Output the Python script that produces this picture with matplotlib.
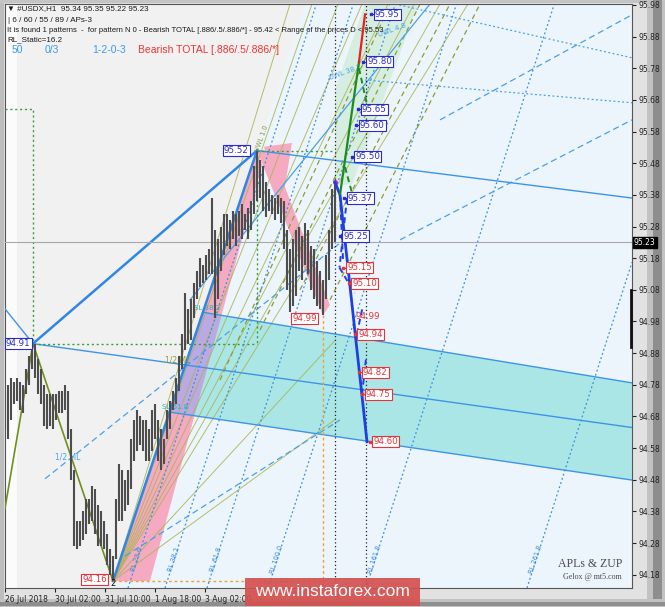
import matplotlib
matplotlib.use('Agg')
import matplotlib.pyplot as plt
from matplotlib.patches import Polygon, Rectangle

plt.rcParams['font.family'] = ['DejaVu Sans']

# candle columns (one column = 3 px on the original chart), highs / lows
highs = [94.76, 94.78, 94.80, 94.79, 94.80, 94.79, 94.78, 94.83, 94.87, 94.92,
         94.91, 94.86, 94.83, 94.78, 94.75, 94.75, 94.75, 94.75, 94.76, 94.76,
         94.78, 94.76, 94.64, 94.51, 94.35, 94.35, 94.38, 94.42, 94.42, 94.46,
         94.45, 94.40, 94.38, 94.35, 94.31, 94.26, 94.24, 94.42, 94.53, 94.51,
         94.48, 94.51, 94.61, 94.67, 94.70, 94.68, 94.67, 94.67, 94.64, 94.70,
         94.72, 94.67, 94.64, 94.61, 94.70, 94.73, 94.76, 94.80, 94.87, 94.94,
         95.07, 95.02, 95.05, 95.10, 95.14, 95.18, 95.16, 95.19, 95.21, 95.37,
         95.27, 95.24, 95.28, 95.32, 95.32, 95.30, 95.33, 95.32, 95.33, 95.35,
         95.32, 95.34, 95.36, 95.47, 95.52, 95.49, 95.47, 95.42, 95.40, 95.38,
         95.37, 95.38, 95.37, 95.36, 95.27, 95.21, 95.24, 95.27, 95.28, 95.25,
         95.29, 95.27, 95.22, 95.21, 95.17, 95.14, 95.11, 95.19, 95.27, 95.40,
         95.42]
lows = [94.64, 94.61, 94.67, 94.72, 94.73, 94.70, 94.69, 94.75, 94.78, 94.83,
        94.80, 94.75, 94.72, 94.65, 94.64, 94.65, 94.64, 94.67, 94.69, 94.69,
        94.70, 94.61, 94.48, 94.27, 94.26, 94.27, 94.29, 94.31, 94.34, 94.35,
        94.31, 94.27, 94.27, 94.26, 94.21, 94.18, 94.16, 94.23, 94.35, 94.35,
        94.38, 94.40, 94.45, 94.54, 94.57, 94.59, 94.57, 94.54, 94.54, 94.57,
        94.61, 94.54, 94.51, 94.53, 94.61, 94.64, 94.70, 94.72, 94.76, 94.83,
        94.89, 94.91, 94.92, 94.99, 95.05, 95.09, 95.10, 95.11, 95.13, 95.13,
        94.99, 95.05, 95.14, 95.19, 95.22, 95.21, 95.24, 95.22, 95.25, 95.24,
        95.27, 95.24, 95.27, 95.32, 95.36, 95.37, 95.33, 95.31, 95.33, 95.32,
        95.30, 95.32, 95.29, 95.21, 95.08, 95.01, 95.03, 95.06, 95.14, 95.11,
        95.16, 95.13, 95.08, 95.05, 95.03, 95.02, 95.00, 95.05, 95.11, 95.21,
        95.23]
last_price = 95.23

price_ticks = [95.98, 95.88, 95.78, 95.68, 95.58, 95.48, 95.38, 95.28, 95.18, 95.08,
               94.98, 94.88, 94.78, 94.68, 94.58, 94.48, 94.38, 94.28, 94.18]
time_ticks = [0, 16.67, 33.33, 50, 66.67]
time_labels = ['26 Jul 2018', '30 Jul 02:00', '31 Jul 10:00', '1 Aug 18:00', '3 Aug 02:00']

# zigzag pivots (column, price)
p_left = (0, 94.39)
p1 = (9.33, 94.91)
p2 = (36, 94.16)
p3 = (84, 95.52)
p4 = (106, 95.00)
p_last = (110, 95.42)

# pitchfork lines
fork_upper = [(84, 95.52), (209, 95.37)]
fork_median = [(9.33, 94.91), (209, 94.645)]
fork_left = [(0, 95.02), (9.33, 94.91)]
cyan_top = [(66, 95.009), (209, 94.786)]
cyan_bottom = [(54.67, 94.694), (209, 94.479)]
cyan_zone = [(66, 95.009), (209, 94.786), (209, 94.479), (54.67, 94.694)]
pink_left = [(36, 94.16), (48.33, 94.16), (85.67, 95.475), (84, 95.52)]
pink_right_a = [(84, 95.52), (88.67, 95.52), (108.33, 95.032), (106, 95.00)]
pink_right_b = [(86.33, 95.532), (95.67, 95.544), (92, 95.332)]
lavender_zone = [(66, 95.009), (72.17, 94.999), (63.17, 94.683), (54.67, 94.694)]
green_zone = [(110, 95.412), (115.67, 95.412), (137.67, 95.983), (120, 95.983), (110, 95.712)]
blue_bg = [(35.2, 94.138), (209, 94.138), (209, 95.983), (100.3, 95.983)]

# olive fan from pivot 2
olive_fan_ends = [(95, 95.983), (102.33, 95.983), (111, 95.983), (119, 95.983),
                  (127.67, 95.983), (136.33, 95.983), (145, 95.983), (154.33, 95.983),
                  (110, 94.92), (110, 94.67)]
olive_dashed = [[(71.67, 94.795), (128.33, 95.983)],
                [(85, 94.953), (138.33, 95.983)],
                [(98.33, 95.08), (148.33, 95.983)],
                [(108.33, 95.048), (158.33, 95.983)]]

# reaction lines
rl_lines = [[(41, 94.138), (103.8, 95.983)], [(53.33, 94.138), (116.1, 95.983)],
            [(67.33, 94.138), (130.1, 95.983)], [(87.67, 94.138), (150.5, 95.983)],
            [(120.33, 94.138), (183.1, 95.983)], [(174, 94.138), (209, 95.167)]]
rl_names = ['RL 23.6', 'RL 38.2', 'RL 61.8', 'RL 100.0', 'RL 161.8', 'RL 261.8']
rl_label_pos = [(44, 94.227), (56.33, 94.227), (70.33, 94.227), (90.67, 94.227),
                (123.33, 94.227), (177, 94.227)]

blue_dashed = [[(13.33, 94.483), (111.67, 95.228)],
               [(40, 94.239), (111.67, 94.669)],
               [(131.67, 95.238), (209, 95.617)],
               [(145, 95.617), (209, 95.949)]]
blue_dotted = [[(130, 95.983), (209, 95.813)],
               [(120, 95.743), (209, 95.671)]]
uwl_line = [(61.67, 95.048), (141.67, 95.983)]

# projection
proj_blue = [(110, 95.42), (111.67, 95.38), (120.67, 94.60)]
proj_green = [(111.67, 95.38), (118, 95.80)]
proj_red = [(118, 95.80), (120, 95.95)]
proj_green_dash = [[(118, 95.78), (120.67, 95.664)], [(113.33, 95.468), (115.67, 95.386)]]
proj_blue_dash = [[(111.67, 95.38), (112.7, 95.17)], [(114, 95.37), (111.5, 95.15)],
                  [(111.5, 95.15), (116.5, 95.07)], [(117.3, 94.94), (119.3, 95.03)],
                  [(119, 94.75), (120.3, 94.86)]]

lab_blue_text = ['95.95', '95.80', '95.65', '95.60', '95.50', '95.37', '95.25']
lab_blue_price = [95.95, 95.80, 95.65, 95.60, 95.50, 95.37, 95.25]
lab_blue_u = [123.3, 120.67, 119, 118.3, 116.7, 114.3, 112.7]
lab_red_text = ['95.15', '95.10', '94.94', '94.82', '94.75', '94.60']
lab_red_price = [95.15, 95.10, 94.94, 94.82, 94.75, 94.60]
lab_red_u = [114, 115.7, 117.7, 119.3, 120.3, 122.7]

W, H = 665, 607
BLUE_LAB = '#2a2ad0'
RED_LAB = '#e4343a'


def fig_rect(x0, y0, x1, y1, color, z=-5):
    fig.add_artist(Rectangle((x0 / W, 1 - y1 / H), (x1 - x0) / W, (y1 - y0) / H,
                             transform=fig.transFigure, color=color, lw=0, zorder=z))


def seg(ax, pts, **kw):
    ax.plot([p[0] for p in pts], [p[1] for p in pts], **kw)


def box_label(ax, u, p, txt, color):
    ax.text(u, p, txt, fontsize=6.3, color=color, va='center', ha='left', zorder=9,
            bbox=dict(boxstyle='square,pad=0.12', fc='white', ec=color, lw=0.8))
    ax.plot([u - 1.2, u], [p, p], color=color, lw=0.8, zorder=8)
    ax.plot(u - 1.2, p, 's', color=color, ms=1.8, zorder=8)


fig = plt.figure(figsize=(W / 100, H / 100), dpi=100)
fig.patch.set_facecolor('#e2e2e2')
fig_rect(0, 0, 4, H, '#bdbdbd')
fig_rect(0, 0, W, 3, '#c4c4c4')
fig_rect(647, 0, W, H, '#c2c2c2')
fig_rect(653, 0, 662, H, '#8e8e8e')
fig_rect(0, 599, W, H, '#c2c2c2')
fig_rect(0, 602, W, 606, '#8e8e8e')

ax = fig.add_axes([5 / W, 1 - 588 / H, 627 / W, 584 / H])
ax.set_xlim(0, 209)
ax.set_ylim(94.138, 95.983)
ax.set_facecolor('#f1f1f1')

# backgrounds and zones
ax.axvspan(0, 4, color='#fbfbfb', lw=0, zorder=0.5)
ax.add_patch(Polygon(blue_bg, closed=True, fc='#edf5fc', ec='none', zorder=0.6))
ax.add_patch(Polygon(cyan_zone, closed=True, fc='#abe6e6', ec='none', zorder=1))
ax.add_patch(Polygon(pink_left, closed=True, fc='#f5aac2', ec='none', zorder=1.1))
ax.add_patch(Polygon(pink_right_a, closed=True, fc='#f5aac2', ec='none', zorder=1.1))
ax.add_patch(Polygon(pink_right_b, closed=True, fc='#f5aac2', ec='none', zorder=1.1))
ax.add_patch(Polygon(lavender_zone, closed=True, fc='#bba9e3', ec='none', zorder=1.2))
ax.add_patch(Polygon(green_zone, closed=True, fc='#d6eee2', ec='none', zorder=1))

# olive fan and lines
for end in olive_fan_ends:
    seg(ax, [p2, end], color='#a9b451', lw=0.7, alpha=0.85, zorder=2)
for pts in olive_dashed:
    seg(ax, pts, color='#8e9c32', lw=0.9, ls=(0, (4, 3)), zorder=2)
seg(ax, [p_left, p1, p2], color='#6f8f1f', lw=1.2, zorder=3)

# reaction lines
for pts, name, pos in zip(rl_lines, rl_names, rl_label_pos):
    seg(ax, pts, color='#3a8ee0', lw=0.9, ls=(0, (1.5, 2)), zorder=2)
    ax.text(pos[0], pos[1], name, color='#3a8ee0', fontsize=4.8, rotation=72,
            ha='center', va='center', zorder=2)

for pts in blue_dashed:
    seg(ax, pts, color='#4aa0e8', lw=0.9, ls=(0, (5, 3)), zorder=2)
for pts in blue_dotted:
    seg(ax, pts, color='#4aa0e8', lw=0.9, ls=(0, (1.5, 2)), zorder=2)
seg(ax, uwl_line, color='#4aa0e8', lw=0.9, zorder=2)

# pitchfork
for pts in (fork_upper, fork_median, fork_left, cyan_top, cyan_bottom):
    seg(ax, pts, color='#3d94e6', lw=1.0, zorder=3)
seg(ax, [p1, p3], color='#2f86e4', lw=1.8, zorder=3)
seg(ax, [p2, p3], color='#2f86e4', lw=1.8, zorder=3)

# helper dotted lines
gdot = dict(color='#3c9c3c', lw=1.0, ls=(0, (1.5, 2)), zorder=3)
seg(ax, [(0, 95.65), (9.33, 95.65), (9.33, 94.91)], **gdot)
seg(ax, [(9.33, 94.91), (84, 94.91)], **gdot)
seg(ax, [(84, 95.52), (84, 94.91)], **gdot)
seg(ax, [(84, 95.52), (110, 95.52)], **gdot)
odot = dict(color='#f0a030', lw=1.0, ls=(0, (2, 2)), zorder=3)
seg(ax, [(106, 95.00), (106, 94.138)], **odot)
seg(ax, [(36, 94.16), (106, 94.16)], **odot)
ax.axvline(110, color='#222222', lw=0.9, ls=(0, (1, 2)), zorder=3)
ax.axvline(120.33, color='#222222', lw=0.9, ls=(0, (1, 2)), zorder=3)
ax.axhline(last_price, color='#a8a8a8', lw=0.8, zorder=3)

# candles
cols = list(range(len(highs)))
ax.vlines(cols, lows, highs, color='#4d4d4d', lw=1.5, zorder=5)
ax.plot(p_last[0], p_last[1], 'o', color='#d020d0', ms=2.5, zorder=6)

# projection
seg(ax, proj_blue, color='#1f3fe0', lw=2.0, zorder=7)
seg(ax, proj_green, color='#1c8c1c', lw=1.6, zorder=7)
seg(ax, proj_red, color='#e82020', lw=1.6, zorder=7)
for pts in proj_green_dash:
    seg(ax, pts, color='#1c8c1c', lw=1.4, ls=(0, (3, 2)), zorder=7)
for pts in proj_blue_dash:
    seg(ax, pts, color='#1f3fe0', lw=1.4, ls=(0, (3, 2)), zorder=7)

for t, p, u in zip(lab_blue_text, lab_blue_price, lab_blue_u):
    box_label(ax, u, p, t, BLUE_LAB)
for t, p, u in zip(lab_red_text, lab_red_price, lab_red_u):
    box_label(ax, u, p, t, RED_LAB)
ax.text(116.7, 94.995, '94.99', fontsize=6.3, color=RED_LAB, va='center', ha='left', zorder=9)

# pivot labels
ax.text(0.3, 94.91, '94.91', fontsize=6.3, color=BLUE_LAB, va='center', ha='left', zorder=9,
        bbox=dict(boxstyle='square,pad=0.12', fc='white', ec=BLUE_LAB, lw=0.8))
ax.text(73, 95.52, '95.52', fontsize=6.3, color=BLUE_LAB, va='center', ha='left', zorder=9,
        bbox=dict(boxstyle='square,pad=0.12', fc='white', ec=BLUE_LAB, lw=0.8))
ax.text(25.7, 94.165, '94.16', fontsize=6.3, color=RED_LAB, va='center', ha='left', zorder=9,
        bbox=dict(boxstyle='square,pad=0.12', fc='white', ec=RED_LAB, lw=0.8))
ax.text(95.7, 94.99, '94.99', fontsize=6.3, color=RED_LAB, va='center', ha='left', zorder=9,
        bbox=dict(boxstyle='square,pad=0.12', fc='white', ec=RED_LAB, lw=0.8))
ax.text(36, 94.152, '2', fontsize=6, color='#111111', ha='center', va='center', zorder=9)

# small pattern labels
ax.text(21, 94.552, '1/2 ML', fontsize=5.5, color='#4aa3e8', ha='center', va='center', zorder=4)
ax.text(57.67, 94.858, '1/2 ML', fontsize=5.5, color='#8a9a3a', ha='center', va='center', zorder=4)
ax.text(56.67, 94.71, 'SL 61.8', fontsize=5, color='#2bb0b0', ha='center', va='center', zorder=4)
ax.text(67.33, 95.023, 'SL 38.2', fontsize=5, color='#2bb0b0', ha='center', va='center', zorder=4)
ax.text(85.67, 95.56, 'UWL 1.0', fontsize=4.8, color='#8a9a3a', rotation=70, ha='center', va='center', zorder=4)
ax.text(113.33, 95.768, 'UWL 38.2', fontsize=5, color='#4aa3e8', rotation=20, ha='center', va='center', zorder=4)
ax.text(129, 95.901, 'UWL 4.8', fontsize=5, color='#4aa3e8', rotation=20, ha='center', va='center', zorder=4)

# right edge indicator
ax.plot([208.6, 208.6], [95.08, 94.90], color='#111111', lw=2, zorder=9, clip_on=False)

# axes
ax.yaxis.tick_right()
ax.set_yticks(price_ticks)
ax.set_yticklabels(['%.2f' % v for v in price_ticks])
ax.set_xticks(time_ticks)
ax.set_xticklabels(time_labels)
for lbl in ax.get_xticklabels():
    lbl.set_ha('left')
ax.tick_params(axis='y', labelsize=5.5, length=3, pad=2, colors='#222222')
ax.tick_params(axis='x', labelsize=5.5, length=3, pad=2, colors='#222222')
for sp in ax.spines.values():
    sp.set_color('#555555')
    sp.set_linewidth(0.8)

ax.text(1.003, last_price, '95.23', transform=ax.get_yaxis_transform(), fontsize=5.5,
        color='white', va='center', ha='left', clip_on=False, zorder=10,
        bbox=dict(boxstyle='square,pad=0.15', fc='black', ec='black'))

# header text
hdr = ['Liberation Sans', 'DejaVu Sans']
fig.text(7 / W, 1 - 9 / H, '\u25bc #USDX,H1  95.34 95.35 95.22 95.23', fontsize=5.8,
         family=hdr, color='#1a1a1a', va='center')
fig.text(8 / W, 1 - 21 / H, '| 6 / 60 / 55 / 89 / APs-3', fontsize=5.8,
         family=hdr, color='#1a1a1a', va='center')
fig.text(7 / W, 1 - 31 / H,
         'It is found 1 patterns  -  for pattern N 0 - Bearish TOTAL [.886/.5/.886/*] - 95.42 < Range of the prices D < 95.53',
         fontsize=5.5, family=hdr, color='#1a1a1a', va='center')
fig.text(7 / W, 1 - 40 / H, 'RL_Static=16.2', fontsize=5.8, family=hdr, color='#1a1a1a', va='center')
fig.text(12 / W, 1 - 50 / H, '50', fontsize=7.5, family=hdr, color='#3d9be9', va='center')
fig.text(45 / W, 1 - 50 / H, '0/3', fontsize=7.5, family=hdr, color='#3d9be9', va='center')
fig.text(92 / W, 1 - 50 / H, '1-2-0-3', fontsize=7.5, family=hdr, color='#3d9be9', va='center')
fig.text(138 / W, 1 - 50 / H, 'Bearish TOTAL [.886/.5/.886/*]', fontsize=7.5, family=hdr,
         color='#ee3333', va='center')

fig.text(622 / W, 1 - 564 / H, 'APLs & ZUP', fontsize=8.5, family='Liberation Serif',
         color='#4a4a4a', ha='right', va='center')
fig.text(622 / W, 1 - 577 / H, 'Gelox @ mt5.com', fontsize=5.8, family='Liberation Serif',
         color='#4a4a4a', ha='right', va='center')

# watermark
fig.add_artist(Rectangle((245 / W, 1 - 606 / H), 175 / W, 28 / H, transform=fig.transFigure,
                         color='#d4504f', alpha=0.92, lw=0, zorder=20))
fig.text(332 / W, 1 - 592 / H, 'www.instaforex.com', fontsize=12.5, family=hdr,
         color='white', ha='center', va='center', zorder=21)

fig.savefig('out.png', dpi=100)
